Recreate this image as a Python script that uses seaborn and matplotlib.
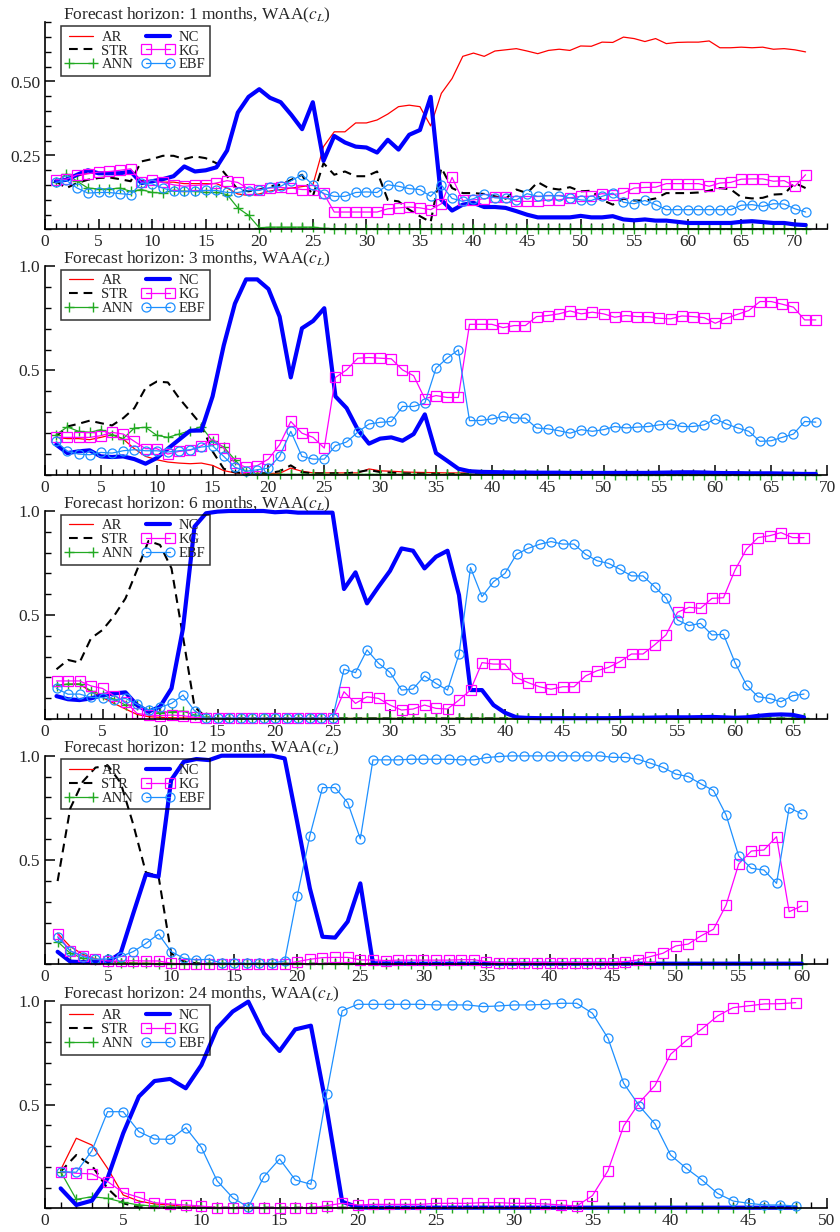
import numpy as np
import seaborn as sns
from matplotlib import pyplot as plt
from matplotlib.ticker import MultipleLocator, FixedLocator, FormatStrFormatter

sns.set_style('ticks')
plt.rcParams['font.family'] = ['Liberation Serif', 'DejaVu Serif']
plt.rcParams['mathtext.fontset'] = 'stix'

NAMES = ['AR', 'STR', 'ANN', 'NC', 'KG', 'EBF']

# ---- horizon 1 (71 windows) ----
ar_1 = [0.17, 0.17, 0.18, 0.19, 0.19, 0.19, 0.19, 0.19, 0.165, 0.165,
        0.16, 0.16, 0.155, 0.155, 0.155, 0.155, 0.14, 0.12, 0.115, 0.12,
        0.13, 0.135, 0.14, 0.145, 0.15, 0.28, 0.33, 0.33, 0.36, 0.36,
        0.37, 0.39, 0.415, 0.42, 0.415, 0.35, 0.46, 0.51, 0.585, 0.596,
        0.585, 0.603, 0.607, 0.611, 0.603, 0.594, 0.605, 0.609, 0.605, 0.62,
        0.619, 0.633, 0.632, 0.65, 0.645, 0.635, 0.645, 0.628, 0.632, 0.633,
        0.633, 0.637, 0.614, 0.614, 0.616, 0.614, 0.616, 0.609, 0.611, 0.607,
        0.60]
str_1 = [0.163, 0.14, 0.157, 0.168, 0.174, 0.176, 0.17, 0.163, 0.23, 0.238,
         0.249, 0.249, 0.238, 0.247, 0.241, 0.224, 0.18, 0.135, 0.129, 0.135,
         0.146, 0.151, 0.168, 0.185, 0.112, 0.224, 0.185, 0.196, 0.18, 0.18,
         0.196, 0.1, 0.095, 0.067, 0.045, 0.025, 0.208, 0.14, 0.123, 0.123,
         0.12, 0.112, 0.104, 0.135, 0.123, 0.16, 0.14, 0.135, 0.143, 0.129,
         0.131, 0.10, 0.084, 0.104, 0.098, 0.098, 0.105, 0.123, 0.123, 0.123,
         0.125, 0.131, 0.14, 0.136, 0.109, 0.105, 0.107, 0.118, 0.12, 0.157,
         0.14]
ann_1 = [0.159, 0.188, 0.163, 0.14, 0.137, 0.137, 0.14, 0.129, 0.135, 0.125,
         0.123, 0.132, 0.129, 0.129, 0.125, 0.125, 0.118, 0.073, 0.048, 0.006,
         0.008, 0.008, 0.008, 0.008, 0.008, 0.004, 0.003, 0.003, 0.003, 0.003,
         0.003, 0.003, 0.003, 0.003, 0.003, 0.003, 0.003, 0.003, 0.003, 0.003,
         0.003, 0.003, 0.003, 0.003, 0.003, 0.003, 0.003, 0.003, 0.003, 0.003,
         0.003, 0.003, 0.003, 0.003, 0.003, 0.003, 0.003, 0.003, 0.003, 0.003,
         0.003, 0.003, 0.003, 0.003, 0.003, 0.003, 0.003, 0.003, 0.003, 0.003,
         0.003]
nc_1 = [0.163, 0.168, 0.185, 0.2, 0.19, 0.19, 0.19, 0.196, 0.157, 0.163,
        0.17, 0.18, 0.213, 0.196, 0.2, 0.21, 0.267, 0.395, 0.448, 0.474,
        0.445, 0.43, 0.387, 0.339, 0.43, 0.232, 0.316, 0.294, 0.28, 0.277,
        0.26, 0.303, 0.27, 0.32, 0.336, 0.448, 0.10, 0.064, 0.084, 0.09,
        0.076, 0.076, 0.073, 0.062, 0.05, 0.041, 0.041, 0.041, 0.041, 0.046,
        0.041, 0.041, 0.045, 0.034, 0.031, 0.034, 0.03, 0.03, 0.026, 0.022,
        0.022, 0.022, 0.022, 0.022, 0.026, 0.028, 0.025, 0.022, 0.022, 0.017,
        0.015]
kg_1 = [0.168, 0.17, 0.185, 0.188, 0.194, 0.196, 0.2, 0.205, 0.159, 0.166,
        0.159, 0.151, 0.146, 0.149, 0.151, 0.157, 0.165, 0.159, 0.137, 0.135,
        0.14, 0.142, 0.14, 0.135, 0.135, 0.123, 0.059, 0.059, 0.059, 0.059,
        0.059, 0.07, 0.073, 0.076, 0.073, 0.067, 0.087, 0.176, 0.098, 0.10,
        0.104, 0.109, 0.109, 0.095, 0.095, 0.095, 0.10, 0.10, 0.107, 0.112,
        0.112, 0.121, 0.118, 0.123, 0.14, 0.142, 0.143, 0.155, 0.155, 0.155,
        0.155, 0.146, 0.157, 0.159, 0.17, 0.171, 0.171, 0.163, 0.165, 0.146,
        0.185]
ebf_1 = [0.159, 0.166, 0.14, 0.123, 0.125, 0.125, 0.121, 0.118, 0.157, 0.154,
         0.14, 0.129, 0.129, 0.129, 0.132, 0.132, 0.125, 0.125, 0.131, 0.132,
         0.142, 0.146, 0.165, 0.185, 0.151, 0.121, 0.112, 0.112, 0.125, 0.127,
         0.125, 0.151, 0.146, 0.138, 0.135, 0.112, 0.15, 0.105, 0.095, 0.104,
         0.12, 0.107, 0.105, 0.10, 0.121, 0.112, 0.114, 0.114, 0.107, 0.10,
         0.098, 0.112, 0.123, 0.092, 0.087, 0.098, 0.084, 0.067, 0.067, 0.067,
         0.067, 0.067, 0.067, 0.067, 0.082, 0.084, 0.078, 0.087, 0.086, 0.07,
         0.059]

# ---- horizon 3 (69 windows) ----
ar_3 = [0.18, 0.174, 0.174, 0.169, 0.18, 0.193, 0.172, 0.126, 0.089, 0.073,
        0.062, 0.057, 0.054, 0.057, 0.046, 0.021, 0.01, 0.008, 0.008, 0.008,
        0.008, 0.033, 0.018, 0.01, 0.01, 0.01, 0.01, 0.01, 0.029, 0.02,
        0.018, 0.015, 0.013, 0.012, 0.011, 0.01, 0.01, 0.01, 0.01, 0.01,
        0.011, 0.012, 0.013, 0.014, 0.015, 0.015, 0.014, 0.013, 0.012, 0.011,
        0.01, 0.009, 0.009, 0.008, 0.008, 0.008, 0.007, 0.007, 0.006, 0.006,
        0.006, 0.005, 0.005, 0.005, 0.004, 0.004, 0.004, 0.003, 0.003]
str_3 = [0.185, 0.232, 0.245, 0.26, 0.248, 0.237, 0.272, 0.32, 0.416, 0.447,
         0.443, 0.368, 0.304, 0.24, 0.113, 0.03, 0.013, 0.008, 0.008, 0.008,
         0.018, 0.046, 0.013, 0.008, 0.008, 0.008, 0.008, 0.014, 0.024, 0.014,
         0.011, 0.008, 0.007, 0.006, 0.006, 0.005, 0.005, 0.005, 0.005, 0.005,
         0.005, 0.005, 0.004, 0.004, 0.004, 0.004, 0.004, 0.004, 0.004, 0.004,
         0.004, 0.004, 0.004, 0.004, 0.004, 0.003, 0.003, 0.003, 0.003, 0.003,
         0.003, 0.003, 0.003, 0.003, 0.003, 0.003, 0.003, 0.003, 0.003]
ann_3 = [0.193, 0.23, 0.209, 0.204, 0.217, 0.193, 0.174, 0.225, 0.228, 0.19,
         0.18, 0.196, 0.212, 0.232, 0.161, 0.134, 0.073, 0.013, 0.004, 0.003,
         0.003, 0.003, 0.003, 0.003, 0.003, 0.003, 0.003, 0.003, 0.003, 0.003,
         0.003, 0.003, 0.003, 0.003, 0.003, 0.003, 0.003, 0.003, 0.003, 0.003,
         0.003, 0.003, 0.003, 0.003, 0.003, 0.003, 0.003, 0.003, 0.003, 0.003,
         0.002, 0.002, 0.002, 0.002, 0.002, 0.002, 0.002, 0.002, 0.002, 0.002,
         0.002, 0.002, 0.002, 0.002, 0.002, 0.002, 0.002, 0.002, 0.002]
nc_3 = [0.145, 0.105, 0.113, 0.118, 0.089, 0.086, 0.089, 0.076, 0.054, 0.081,
        0.126, 0.169, 0.212, 0.213, 0.376, 0.62, 0.82, 0.936, 0.936, 0.89,
        0.758, 0.467, 0.702, 0.737, 0.798, 0.376, 0.32, 0.217, 0.15, 0.174,
        0.18, 0.164, 0.196, 0.29, 0.105, 0.068, 0.03, 0.018, 0.015, 0.014,
        0.013, 0.012, 0.012, 0.011, 0.011, 0.011, 0.01, 0.01, 0.01, 0.01,
        0.01, 0.01, 0.01, 0.01, 0.011, 0.012, 0.013, 0.013, 0.012, 0.01,
        0.009, 0.009, 0.008, 0.008, 0.008, 0.007, 0.006, 0.005, 0.005]
kg_3 = [0.18, 0.18, 0.18, 0.18, 0.188, 0.204, 0.196, 0.161, 0.126, 0.126,
        0.1, 0.113, 0.118, 0.14, 0.172, 0.129, 0.057, 0.037, 0.045, 0.076,
        0.145, 0.256, 0.2, 0.18, 0.129, 0.467, 0.503, 0.559, 0.562, 0.559,
        0.556, 0.503, 0.475, 0.365, 0.38, 0.371, 0.371, 0.721, 0.721, 0.721,
        0.705, 0.715, 0.715, 0.758, 0.763, 0.771, 0.785, 0.771, 0.779, 0.771,
        0.755, 0.763, 0.758, 0.758, 0.75, 0.747, 0.761, 0.758, 0.753, 0.726,
        0.75, 0.769, 0.787, 0.83, 0.83, 0.817, 0.803, 0.742, 0.742]
ebf_3 = [0.161, 0.113, 0.1, 0.097, 0.108, 0.105, 0.116, 0.121, 0.116, 0.116,
         0.11, 0.116, 0.121, 0.134, 0.14, 0.089, 0.037, 0.018, 0.025, 0.033,
         0.089, 0.209, 0.089, 0.076, 0.076, 0.14, 0.158, 0.205, 0.244, 0.252,
         0.256, 0.328, 0.328, 0.344, 0.511, 0.559, 0.599, 0.26, 0.261, 0.268,
         0.28, 0.272, 0.272, 0.225, 0.221, 0.212, 0.2, 0.217, 0.209, 0.217,
         0.232, 0.225, 0.229, 0.232, 0.24, 0.244, 0.232, 0.232, 0.24, 0.268,
         0.244, 0.225, 0.209, 0.161, 0.164, 0.18, 0.196, 0.256, 0.253]

# ---- horizon 6 (66 windows) ----
ar_6 = [0.163, 0.167, 0.168, 0.131, 0.103, 0.075, 0.048, 0.022, 0.011, 0.008,
        0.006, 0.005, 0.004, 0.003, 0.003, 0.003, 0.003, 0.003, 0.003, 0.003,
        0.003, 0.003, 0.003, 0.003, 0.003, 0.003, 0.003, 0.003, 0.003, 0.003,
        0.003, 0.003, 0.003, 0.003, 0.003, 0.003, 0.003, 0.003, 0.003, 0.003,
        0.002, 0.002, 0.002, 0.002, 0.002, 0.002, 0.002, 0.002, 0.002, 0.002,
        0.002, 0.002, 0.002, 0.002, 0.002, 0.002, 0.002, 0.002, 0.002, 0.002,
        0.002, 0.002, 0.002, 0.002, 0.002, 0.002]
str_6 = [0.239, 0.284, 0.271, 0.388, 0.428, 0.495, 0.58, 0.716, 0.856, 0.837,
         0.724, 0.396, 0.059, 0.008, 0.004, 0.003, 0.003, 0.003, 0.003, 0.003,
         0.003, 0.003, 0.003, 0.003, 0.003, 0.003, 0.003, 0.003, 0.003, 0.003,
         0.003, 0.003, 0.003, 0.003, 0.003, 0.003, 0.003, 0.003, 0.003, 0.003,
         0.002, 0.002, 0.002, 0.002, 0.002, 0.002, 0.002, 0.002, 0.002, 0.002,
         0.002, 0.002, 0.002, 0.002, 0.002, 0.002, 0.002, 0.002, 0.002, 0.002,
         0.002, 0.002, 0.002, 0.002, 0.002, 0.002]
ann_6 = [0.16, 0.168, 0.168, 0.136, 0.115, 0.095, 0.067, 0.067, 0.043, 0.03,
         0.035, 0.038, 0.019, 0.008, 0.003, 0.003, 0.003, 0.003, 0.003, 0.003,
         0.003, 0.003, 0.003, 0.003, 0.003, 0.003, 0.003, 0.003, 0.003, 0.003,
         0.003, 0.003, 0.003, 0.003, 0.003, 0.003, 0.003, 0.003, 0.003, 0.003,
         0.003, 0.003, 0.003, 0.003, 0.003, 0.003, 0.003, 0.003, 0.003, 0.003,
         0.003, 0.003, 0.003, 0.003, 0.003, 0.003, 0.003, 0.003, 0.003, 0.003,
         0.003, 0.003, 0.003, 0.003, 0.003, 0.003]
nc_6 = [0.11, 0.095, 0.091, 0.099, 0.115, 0.123, 0.128, 0.067, 0.035, 0.059,
        0.147, 0.436, 0.925, 0.989, 0.997, 1.0, 1.0, 1.0, 1.0, 0.994,
        0.997, 0.992, 0.992, 0.992, 0.992, 0.625, 0.705, 0.556, 0.636, 0.712,
        0.82, 0.809, 0.724, 0.78, 0.809, 0.596, 0.139, 0.139, 0.067, 0.03,
        0.008, 0.005, 0.004, 0.004, 0.004, 0.004, 0.004, 0.004, 0.004, 0.005,
        0.006, 0.006, 0.007, 0.008, 0.008, 0.008, 0.009, 0.01, 0.008, 0.006,
        0.008, 0.015, 0.02, 0.022, 0.02, 0.008]
kg_6 = [0.183, 0.183, 0.183, 0.159, 0.147, 0.112, 0.083, 0.027, 0.019, 0.016,
        0.019, 0.016, 0.008, 0.003, 0.003, 0.003, 0.003, 0.003, 0.003, 0.003,
        0.003, 0.003, 0.003, 0.003, 0.003, 0.131, 0.075, 0.107, 0.099, 0.067,
        0.043, 0.048, 0.067, 0.051, 0.048, 0.091, 0.139, 0.271, 0.264, 0.264,
        0.199, 0.175, 0.155, 0.143, 0.155, 0.155, 0.207, 0.232, 0.248, 0.276,
        0.3125, 0.3125, 0.356, 0.404, 0.513, 0.537, 0.532, 0.58, 0.583, 0.716,
        0.817, 0.872, 0.881, 0.896, 0.872, 0.872]
ebf_6 = [0.147, 0.119, 0.12, 0.104, 0.103, 0.091, 0.099, 0.071, 0.043, 0.056,
         0.075, 0.115, 0.04, 0.003, 0.003, 0.003, 0.003, 0.003, 0.003, 0.003,
         0.003, 0.003, 0.003, 0.003, 0.003, 0.239, 0.223, 0.332, 0.268, 0.224,
         0.139, 0.144, 0.207, 0.171, 0.139, 0.311, 0.728, 0.588, 0.66, 0.7,
         0.792, 0.82, 0.84, 0.853, 0.841, 0.841, 0.792, 0.761, 0.748, 0.72,
         0.688, 0.688, 0.636, 0.583, 0.476, 0.449, 0.46, 0.404, 0.407, 0.271,
         0.163, 0.107, 0.099, 0.083, 0.112, 0.12]

# ---- horizon 12 (60 windows) ----
ar_12 = [0.149, 0.085, 0.048, 0.026, 0.016, 0.01, 0.006, 0.005, 0.004, 0.004,
         0.003, 0.003, 0.003, 0.003, 0.003, 0.003, 0.003, 0.003, 0.003, 0.003,
         0.003, 0.003, 0.003, 0.003, 0.003, 0.003, 0.003, 0.003, 0.003, 0.003,
         0.003, 0.003, 0.003, 0.003, 0.003, 0.003, 0.003, 0.003, 0.003, 0.003,
         0.003, 0.003, 0.003, 0.003, 0.003, 0.003, 0.003, 0.003, 0.003, 0.003,
         0.003, 0.003, 0.003, 0.003, 0.003, 0.003, 0.003, 0.003, 0.003, 0.003]
str_12 = [0.399, 0.747, 0.876, 0.943, 0.952, 0.87, 0.67, 0.44, 0.423, 0.053,
          0.013, 0.005, 0.003, 0.003, 0.003, 0.003, 0.003, 0.003, 0.003, 0.003,
          0.003, 0.003, 0.003, 0.003, 0.003, 0.003, 0.003, 0.003, 0.003, 0.003,
          0.003, 0.003, 0.003, 0.003, 0.003, 0.003, 0.003, 0.003, 0.003, 0.003,
          0.003, 0.003, 0.003, 0.003, 0.003, 0.003, 0.003, 0.003, 0.003, 0.003,
          0.003, 0.003, 0.003, 0.003, 0.003, 0.003, 0.003, 0.003, 0.003, 0.003]
ann_12 = [0.109, 0.053, 0.029, 0.019, 0.013, 0.007, 0.005, 0.004, 0.003, 0.003,
          0.003, 0.003, 0.003, 0.003, 0.003, 0.003, 0.003, 0.003, 0.003, 0.003,
          0.003, 0.003, 0.003, 0.003, 0.003, 0.003, 0.003, 0.003, 0.003, 0.003,
          0.003, 0.003, 0.003, 0.003, 0.003, 0.003, 0.003, 0.003, 0.003, 0.003,
          0.003, 0.003, 0.003, 0.003, 0.003, 0.003, 0.003, 0.003, 0.003, 0.003,
          0.003, 0.003, 0.003, 0.003, 0.003, 0.003, 0.003, 0.003, 0.003, 0.003]
nc_12 = [0.06, 0.013, 0.01, 0.01, 0.013, 0.053, 0.244, 0.431, 0.42, 0.883,
         0.971, 0.984, 0.979, 1.0, 1.0, 1.0, 1.0, 1.0, 0.987, 0.68,
         0.364, 0.132, 0.128, 0.205, 0.388, 0.005, 0.004, 0.004, 0.003, 0.003,
         0.003, 0.003, 0.003, 0.003, 0.003, 0.003, 0.003, 0.003, 0.003, 0.003,
         0.003, 0.003, 0.003, 0.003, 0.003, 0.003, 0.003, 0.003, 0.003, 0.003,
         0.003, 0.003, 0.003, 0.003, 0.003, 0.003, 0.003, 0.003, 0.003, 0.003]
kg_12 = [0.144, 0.064, 0.042, 0.024, 0.016, 0.016, 0.017, 0.016, 0.016, 0.005,
         0.001, 0.001, 0.001, 0.001, 0.001, 0.001, 0.001, 0.001, 0.001, 0.013,
         0.024, 0.032, 0.033, 0.033, 0.021, 0.021, 0.018, 0.02, 0.02, 0.02,
         0.02, 0.02, 0.022, 0.022, 0.013, 0.008, 0.008, 0.008, 0.008, 0.008,
         0.008, 0.008, 0.008, 0.008, 0.008, 0.013, 0.021, 0.037, 0.053, 0.088,
         0.097, 0.136, 0.168, 0.284, 0.481, 0.543, 0.548, 0.612, 0.252, 0.28]
ebf_12 = [0.132, 0.064, 0.037, 0.024, 0.026, 0.037, 0.061, 0.1, 0.145, 0.061,
          0.029, 0.021, 0.024, 0.005, 0.005, 0.005, 0.005, 0.005, 0.016, 0.327,
          0.617, 0.847, 0.847, 0.775, 0.601, 0.98, 0.98, 0.98, 0.983, 0.983,
          0.983, 0.983, 0.98, 0.98, 0.991, 0.996, 0.999, 0.999, 0.999, 0.999,
          0.999, 0.999, 0.999, 0.999, 0.992, 0.992, 0.983, 0.964, 0.944, 0.912,
          0.9, 0.865, 0.833, 0.716, 0.519, 0.46, 0.452, 0.388, 0.751, 0.721]

# ---- horizon 24 (48 windows) ----
ar_24 = [0.185, 0.338, 0.305, 0.193, 0.064, 0.035, 0.021, 0.016, 0.008, 0.005,
         0.004, 0.003, 0.003, 0.003, 0.003, 0.003, 0.003, 0.003, 0.003, 0.003,
         0.003, 0.003, 0.003, 0.003, 0.003, 0.003, 0.003, 0.003, 0.003, 0.003,
         0.002, 0.002, 0.002, 0.002, 0.002, 0.002, 0.002, 0.002, 0.002, 0.002,
         0.002, 0.002, 0.002, 0.002, 0.002, 0.002, 0.002, 0.002]
str_24 = [0.177, 0.257, 0.206, 0.096, 0.024, 0.005, 0.003, 0.003, 0.003, 0.003,
          0.003, 0.003, 0.003, 0.003, 0.003, 0.003, 0.003, 0.003, 0.003, 0.003,
          0.003, 0.003, 0.003, 0.003, 0.003, 0.003, 0.003, 0.003, 0.003, 0.003,
          0.002, 0.002, 0.002, 0.002, 0.002, 0.002, 0.002, 0.002, 0.002, 0.002,
          0.002, 0.002, 0.002, 0.002, 0.002, 0.002, 0.002, 0.002]
ann_24 = [0.177, 0.043, 0.056, 0.048, 0.029, 0.016, 0.011, 0.008, 0.005, 0.004,
          0.003, 0.003, 0.003, 0.003, 0.003, 0.003, 0.003, 0.003, 0.003, 0.003,
          0.003, 0.003, 0.003, 0.003, 0.003, 0.003, 0.003, 0.003, 0.003, 0.003,
          0.003, 0.003, 0.003, 0.003, 0.003, 0.003, 0.003, 0.003, 0.003, 0.003,
          0.003, 0.003, 0.003, 0.003, 0.003, 0.003, 0.003, 0.003]
nc_24 = [0.096, 0.016, 0.037, 0.145, 0.362, 0.539, 0.614, 0.624, 0.579, 0.691,
         0.868, 0.949, 0.997, 0.844, 0.759, 0.863, 0.881, 0.487, 0.032, 0.005,
         0.003, 0.003, 0.003, 0.003, 0.003, 0.003, 0.003, 0.003, 0.003, 0.003,
         0.003, 0.003, 0.003, 0.003, 0.003, 0.003, 0.003, 0.003, 0.003, 0.003,
         0.003, 0.003, 0.003, 0.003, 0.003, 0.003, 0.003, 0.003]
kg_24 = [0.177, 0.169, 0.166, 0.129, 0.076, 0.053, 0.027, 0.021, 0.016, 0.011,
         0.002, 0.001, 0.001, 0.001, 0.001, 0.001, 0.001, 0.013, 0.024, 0.016,
         0.019, 0.019, 0.019, 0.019, 0.024, 0.024, 0.024, 0.027, 0.027, 0.024,
         0.024, 0.021, 0.016, 0.011, 0.061, 0.182, 0.397, 0.51, 0.592, 0.743,
         0.809, 0.865, 0.928, 0.968, 0.977, 0.986, 0.987, 0.992]
ebf_24 = [0.177, 0.174, 0.278, 0.466, 0.466, 0.37, 0.334, 0.333, 0.389, 0.293,
          0.133, 0.051, 0.005, 0.153, 0.238, 0.137, 0.116, 0.551, 0.953, 0.984,
          0.984, 0.984, 0.984, 0.984, 0.981, 0.981, 0.981, 0.973, 0.976, 0.981,
          0.981, 0.984, 0.989, 0.989, 0.941, 0.82, 0.603, 0.494, 0.407, 0.257,
          0.193, 0.137, 0.072, 0.035, 0.024, 0.016, 0.016, 0.011]

HORIZONS = [1, 3, 6, 12, 24]
XMAX = [73, 70, 68, 62, 50]

STYLES = {
    'AR': dict(color='#ff0000', lw=0.9),
    'STR': dict(color='black', lw=1.5, ls=(0, (4.2, 2.8))),
    'ANN': dict(color='#22aa22', lw=0.9, marker='+', ms=7, mew=1.0, mec='#22aa22'),
    'NC': dict(color='#0000ff', lw=3.0),
    'KG': dict(color='#ff00ff', lw=0.9, marker='s', ms=6.5, mfc='none', mew=0.9, mec='#ff00ff'),
    'EBF': dict(color='#1e90ff', lw=0.9, marker='o', ms=6.5, mfc='none', mew=0.9, mec='#1e90ff'),
}

# axes boxes in figure pixels: (top, bottom)
ROWS = [(22.3, 229.5), (266, 475), (511, 719), (755.7, 964.3), (1001, 1208.3)]


def draw_panel(ax, horizon, series, xmax, ymax):
    n = len(series[0])
    assert all(len(s) == n for s in series), horizon
    x = np.arange(1, n + 1)
    for name, y in zip(NAMES, series):
        sns.lineplot(x=x, y=y, ax=ax, label=name, errorbar=None, clip_on=False,
                     legend=False, **STYLES[name])

    ax.set_xlim(0, xmax)
    ax.set_ylim(0, ymax)
    ax.xaxis.set_major_locator(MultipleLocator(5))
    ax.xaxis.set_minor_locator(MultipleLocator(1))
    ax.xaxis.set_major_formatter(FormatStrFormatter('%d'))
    if ymax < 1:
        ax.yaxis.set_major_locator(FixedLocator([0.25, 0.5]))
        ax.yaxis.set_minor_locator(MultipleLocator(0.05))
        ax.yaxis.set_major_formatter(FormatStrFormatter('%.2f'))
    else:
        ax.yaxis.set_major_locator(FixedLocator([0.5, 1.0]))
        ax.yaxis.set_minor_locator(MultipleLocator(0.1))
        ax.yaxis.set_major_formatter(FormatStrFormatter('%.1f'))

    ax.tick_params(which='major', direction='in', length=7, width=1.1,
                   labelsize=12.5, color='black')
    ax.tick_params(which='minor', direction='in', length=4, width=1.0, color='black')
    for side in ['top', 'right']:
        ax.spines[side].set_visible(False)
    for side in ['left', 'bottom']:
        ax.spines[side].set_linewidth(1.2)
        ax.spines[side].set_color('black')
    ax.set_xlabel('')
    ax.set_ylabel('')

    ax.text(0.023, 1.014, 'Forecast horizon: {} months, WAA($c_L$)'.format(horizon),
            transform=ax.transAxes, fontsize=12.5, ha='left', va='baseline')

    leg = ax.legend(loc='upper left', bbox_to_anchor=(0.02, 0.982), ncol=2,
                    fontsize=10.5, fancybox=False, edgecolor='black',
                    facecolor='none', borderpad=0.3, labelspacing=0.05,
                    handlelength=2.2, handletextpad=0.3, columnspacing=0.6,
                    borderaxespad=0, numpoints=2)
    leg.get_frame().set_linewidth(1.1)


fig = plt.figure(figsize=(8.4, 12.32), dpi=100)
all_series = [
    [ar_1, str_1, ann_1, nc_1, kg_1, ebf_1],
    [ar_3, str_3, ann_3, nc_3, kg_3, ebf_3],
    [ar_6, str_6, ann_6, nc_6, kg_6, ebf_6],
    [ar_12, str_12, ann_12, nc_12, kg_12, ebf_12],
    [ar_24, str_24, ann_24, nc_24, kg_24, ebf_24],
]
for i, (top, bottom) in enumerate(ROWS):
    ax = fig.add_axes([45 / 840, 1 - bottom / 1232, 782 / 840, (bottom - top) / 1232])
    draw_panel(ax, HORIZONS[i], all_series[i], XMAX[i], 0.7 if i == 0 else 1.0)

fig.savefig('out.png', dpi=100)
